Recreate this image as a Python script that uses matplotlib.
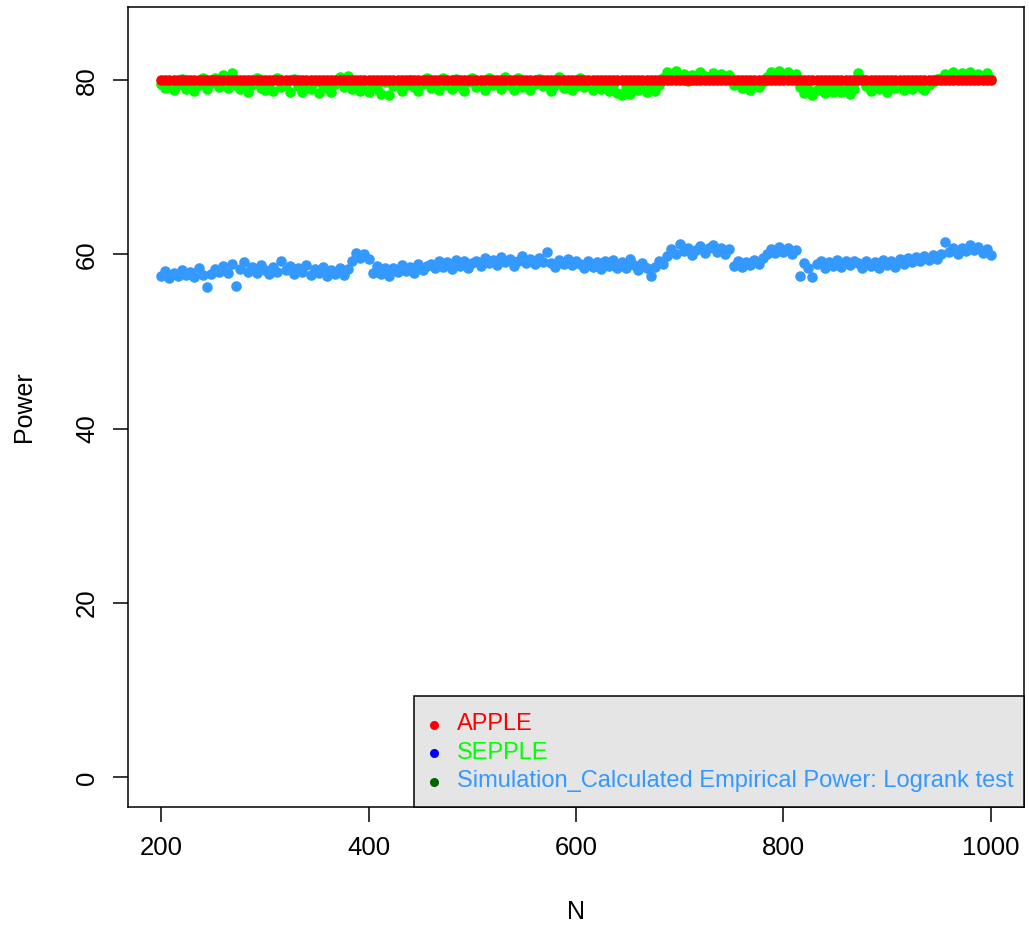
import matplotlib
matplotlib.use('Agg')
import matplotlib.pyplot as plt
from matplotlib.patches import Rectangle

plt.rcParams['font.family'] = ['Liberation Sans', 'DejaVu Sans']

# ---------------- data ----------------
n_values = list(range(200, 1001, 4))

apple_power = [80.0] * len(n_values)

sepple_power = [
    # 200 - 680
    79.6, 79.1, 79.8, 78.9, 79.4, 80.1, 79.0, 79.6, 78.8, 79.5,
    80.2, 79.0, 79.7, 80.3, 79.2, 80.6, 79.1, 80.8, 79.4, 79.0,
    79.7, 78.7, 79.5, 80.2, 79.1, 78.9, 79.7, 78.8, 80.3, 79.2,
    79.6, 78.7, 80.1, 79.3, 78.6, 79.5, 79.0, 79.8, 78.5, 79.4,
    79.1, 78.7, 79.6, 80.4, 79.2, 80.5, 79.0, 79.7, 78.8, 79.3,
    78.6, 79.5, 79.0, 78.4, 79.8, 78.3, 79.3, 79.7, 78.8, 79.4,
    80.0, 79.2, 78.8, 79.6, 80.2, 79.1, 79.7, 78.9, 80.2, 79.4,
    79.0, 80.1, 79.3, 78.8, 79.8, 80.3, 79.2, 79.6, 78.9, 80.2,
    79.4, 79.8, 79.0, 80.4, 79.5, 78.9, 80.3, 79.2, 79.7, 78.9,
    79.6, 80.1, 79.3, 79.7, 78.8, 79.5, 80.4, 79.1, 79.8, 78.9,
    79.3, 80.3, 79.2, 79.6, 78.9, 79.5, 79.0, 79.7, 78.8, 79.4,
    78.5, 78.3, 79.1, 78.4, 79.4, 78.9, 79.6, 78.7, 79.2, 78.8,
    79.5,
    # 684 - 748
    80.3, 80.9, 80.2, 81.0, 80.4, 80.7, 79.9, 80.6, 80.3, 80.9,
    80.5, 80.1, 80.8, 80.4, 80.7, 80.2, 80.6,
    # 752 - 780
    79.4, 79.9, 79.1, 79.6, 78.9, 79.7, 79.2, 79.8,
    # 784 - 812
    80.4, 80.9, 80.5, 81.1, 80.6, 80.9, 80.3, 80.7,
    # 816 - 868
    79.2, 78.5, 79.0, 78.3, 78.9, 79.4, 78.5, 79.0, 78.6, 79.2,
    78.7, 79.1, 78.4, 79.0,
    # 872 - 876
    80.8, 80.1,
    # 880 - 948
    79.3, 78.8, 79.5, 79.0, 79.4, 78.7, 79.6, 79.1, 79.3, 78.9,
    79.5, 79.0, 79.7, 79.2, 78.9, 79.4, 79.8, 80.1,
    # 952 - 1000
    80.2, 80.7, 80.3, 80.9, 80.5, 80.8, 80.2, 80.9, 80.4, 80.7,
    80.3, 80.8, 80.1,
]

logrank_power = [
    # 200 - 252
    57.5, 58.1, 57.3, 57.9, 57.5, 58.2, 57.6, 58.0, 57.4, 58.4,
    57.7, 56.3, 57.8, 58.3,
    # 256 - 300
    58.0, 58.7, 57.9, 58.9, 56.4, 58.3, 59.1, 58.0, 58.6, 57.9,
    58.8, 58.2,
    # 304 - 380
    57.8, 58.6, 58.0, 59.2, 58.2, 58.7, 57.8, 58.4, 58.0, 58.8,
    57.6, 58.3, 57.9, 58.6, 57.5, 58.2, 57.8, 58.5, 57.6, 58.3,
    # 384 - 400
    59.3, 60.2, 59.6, 60.0, 59.5,
    # 404 - 456
    57.9, 58.7, 57.8, 58.4, 57.5, 58.5, 58.0, 58.8, 58.1, 58.6,
    57.9, 58.9, 58.2, 58.7,
    # 460 - 500
    58.9, 58.4, 59.3, 58.6, 59.1, 58.3, 59.4, 58.7, 59.2, 58.5,
    59.0,
    # 504 - 600
    59.3, 58.7, 59.6, 59.0, 59.4, 58.8, 59.7, 59.1, 59.5, 58.7,
    59.3, 59.8, 59.0, 59.5, 58.9, 59.6, 59.1, 60.3, 59.0, 58.6,
    59.4, 58.9, 59.5, 58.8, 59.2,
    # 604 - 684
    58.9, 58.4, 59.3, 58.6, 59.1, 58.3, 59.2, 58.7, 59.4, 58.5,
    59.1, 58.4, 59.5, 58.8, 58.2, 59.0, 58.4, 57.5, 58.6, 59.2,
    58.9,
    # 688 - 748
    59.8, 60.6, 60.1, 61.2, 60.4, 60.8, 59.9, 60.5, 61.0, 60.2,
    60.7, 61.1, 60.3, 60.8, 60.0, 60.6,
    # 752 - 780
    58.7, 59.3, 58.6, 59.1, 58.8, 59.4, 58.9, 59.6,
    # 784 - 812
    60.0, 60.6, 60.2, 60.9, 60.3, 60.7, 60.1, 60.5,
    # 816 - 868
    57.5, 59.0, 58.4, 57.4, 58.9, 59.3, 58.5, 59.1, 58.7, 59.4,
    58.6, 59.2, 58.8, 59.3,
    # 872 - 948
    59.0, 58.5, 59.3, 58.7, 59.1, 58.4, 59.4, 58.8, 59.2, 58.6,
    59.5, 58.9, 59.6, 59.1, 59.7, 59.2, 59.8, 59.4, 59.9, 59.5,
    # 952 - 1000
    60.0, 61.4, 60.3, 60.8, 60.1, 60.7, 60.4, 61.1, 60.5, 60.9,
    60.2, 60.6, 59.9,
]

x_ticks = [200, 400, 600, 800, 1000]
y_ticks = [0, 20, 40, 60, 80]

legend_labels = ["APPLE", "SEPPLE",
                 "Simulation_Calculated Empirical Power: Logrank test"]
legend_marker_colors = ["#FF0000", "#0000FF", "#006400"]
legend_text_colors = ["#FF0000", "#00FF00", "#3399FF"]

# ---------------- figure ----------------
W, H = 1029, 926
fig = plt.figure(figsize=(W / 100, H / 100), dpi=100)
ax_left, ax_right, ax_top, ax_bottom = 128, 1024, 7, 807
ax = fig.add_axes([ax_left / W, 1 - ax_bottom / H,
                   (ax_right - ax_left) / W, (ax_bottom - ax_top) / H])

ms_area = 58
ax.scatter(n_values, sepple_power, s=ms_area, color="#00FF00",
           linewidths=0, zorder=2)
ax.scatter(n_values, apple_power, s=ms_area, color="#FF0000",
           linewidths=0, zorder=3)
ax.scatter(n_values, logrank_power, s=ms_area, color="#3399FF",
           linewidths=0, zorder=2)

ax.set_xlim(168, 1032)
ax.set_ylim(-3.4, 88.4)
ax.set_xticks(x_ticks)
ax.set_yticks(y_ticks)
ax.set_xticklabels([str(v) for v in x_ticks])
ax.set_yticklabels([str(v) for v in y_ticks], rotation=90, va='center')

ax.tick_params(direction='out', length=10.8, width=1.1, pad=10,
               labelsize=18.5, colors='black')
for sp in ax.spines.values():
    sp.set_linewidth(1.1)
    sp.set_color('black')

ax.set_xlabel('N', fontsize=18, va='center')
ax.xaxis.set_label_coords(0.5, -0.131)
ax.set_ylabel('Power', fontsize=18, va='center')
ax.yaxis.set_label_coords(-0.116, 0.5)

# ---------------- legend (R-style box) ----------------
aw = ax_right - ax_left
ah = ax_bottom - ax_top
lg_left, lg_top = 414, 696
ax.add_patch(Rectangle(((lg_left - ax_left) / aw, 0),
                       (ax_right - lg_left) / aw, (ax_bottom - lg_top) / ah,
                       transform=ax.transAxes, facecolor='#E5E5E5',
                       edgecolor='black', linewidth=1.1, zorder=5,
                       clip_on=False))
row_y = [724.5, 753, 781.5]
mark_x = (434 - ax_left) / aw
text_x = (457 - ax_left) / aw
for lab, mc, tc, py in zip(legend_labels, legend_marker_colors,
                           legend_text_colors, row_y):
    yy = (ax_bottom - py) / ah
    ax.plot([mark_x], [yy], 'o', color=mc, markersize=6.5,
            markeredgewidth=0, transform=ax.transAxes, zorder=6,
            clip_on=False)
    ax.text(text_x, yy, lab, color=tc, fontsize=17, va='center',
            ha='left', transform=ax.transAxes, zorder=6)

fig.savefig('out.png', dpi=100)
